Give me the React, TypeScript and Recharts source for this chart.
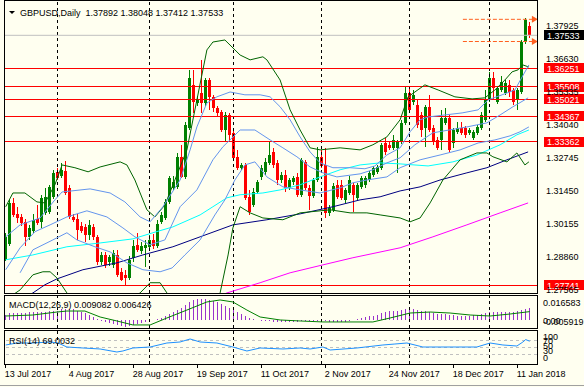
import React from "react";
import { ComposedChart, Bar, Line, XAxis, YAxis, ReferenceLine, ReferenceDot } from "recharts";

const symbolTitle = "GBPUSD,Daily";

// daily candles, 13 Jul 2017 .. 16 Jan 2018
const openPrices = [
  1.2877, 1.2936, 1.3096, 1.3053, 1.3041, 1.3022, 1.2963, 1.2987, 1.3034, 1.3022,
  1.3057, 1.3061, 1.312, 1.3218, 1.3202, 1.3222, 1.3155, 1.3041, 1.3034, 1.3006,
  1.3002, 1.2971, 1.3002, 1.2963, 1.2865, 1.2892, 1.2865, 1.2853, 1.2892, 1.2826,
  1.2814, 1.2802, 1.2881, 1.2932, 1.2908, 1.292, 1.2924, 1.2951, 1.2928, 1.3022,
  1.3037, 1.31, 1.3155, 1.3159, 1.3277, 1.3198, 1.339, 1.3559, 1.3488, 1.3527,
  1.3488, 1.3578, 1.3512, 1.3469, 1.3453, 1.3382, 1.3441, 1.3371, 1.3277, 1.3234,
  1.3245, 1.312, 1.3088, 1.3139, 1.3198, 1.3218, 1.3253, 1.3296, 1.3253, 1.3186,
  1.3206, 1.3155, 1.3179, 1.3198, 1.3128, 1.3257, 1.3155, 1.3124, 1.3186, 1.3277,
  1.3245, 1.3057, 1.3069, 1.3167, 1.3167, 1.3108, 1.3135, 1.3167, 1.3116, 1.3159,
  1.3167, 1.3186, 1.3206, 1.3218, 1.3234, 1.3331, 1.3324, 1.3312, 1.3312, 1.3335,
  1.341, 1.3527, 1.3492, 1.348, 1.3441, 1.339, 1.3473, 1.339, 1.3343, 1.3343,
  1.341, 1.3429, 1.3331, 1.3375, 1.339, 1.339, 1.3371, 1.3351, 1.3371, 1.339,
  1.3422, 1.35, 1.3586, 1.3492, 1.3539, 1.3527, 1.3559, 1.3539, 1.35, 1.3531,
  1.3727, 1.37892,
];
const highPrices = [
  1.2979, 1.3108, 1.3116, 1.3081, 1.3053, 1.3034, 1.301, 1.3053, 1.3088, 1.3128,
  1.3155, 1.3167, 1.3226, 1.3234, 1.3253, 1.3261, 1.3167, 1.3053, 1.3053, 1.3022,
  1.3014, 1.303, 1.3014, 1.2971, 1.2904, 1.2904, 1.2892, 1.2912, 1.2912, 1.2841,
  1.2834, 1.2888, 1.2951, 1.2979, 1.2943, 1.2951, 1.2971, 1.2975, 1.303, 1.3061,
  1.3112, 1.3202, 1.3202, 1.3292, 1.3324, 1.3414, 1.3618, 1.3618, 1.3516, 1.3657,
  1.3586, 1.3586, 1.352, 1.3477, 1.3461, 1.3453, 1.3449, 1.3378, 1.3304, 1.3253,
  1.3253, 1.3147, 1.3155, 1.3186, 1.3245, 1.3273, 1.3335, 1.3312, 1.3265, 1.3218,
  1.3226, 1.3194, 1.3202, 1.3214, 1.3273, 1.3265, 1.3167, 1.3194, 1.3316, 1.3304,
  1.3312, 1.3088, 1.3175, 1.3186, 1.3186, 1.3155, 1.3202, 1.3175, 1.3175, 1.3202,
  1.3202, 1.3222, 1.3241, 1.3245, 1.3331, 1.3351, 1.3335, 1.3363, 1.3343, 1.3422,
  1.3551, 1.3547, 1.3539, 1.35, 1.3453, 1.348, 1.352, 1.3402, 1.3355, 1.3461,
  1.3469, 1.3441, 1.339, 1.3414, 1.3414, 1.3398, 1.339, 1.3382, 1.3402, 1.3453,
  1.3539, 1.361, 1.361, 1.3555, 1.3594, 1.3578, 1.3578, 1.3547, 1.3547, 1.3735,
  1.3821, 1.38048,
];
const lowPrices = [
  1.2869, 1.2928, 1.3041, 1.3018, 1.3006, 1.2928, 1.2951, 1.2979, 1.301, 1.2998,
  1.3049, 1.3053, 1.3112, 1.3186, 1.3194, 1.3128, 1.3034, 1.3022, 1.2951, 1.2979,
  1.2943, 1.2951, 1.2951, 1.2853, 1.2853, 1.2841, 1.2849, 1.2841, 1.2806, 1.279,
  1.2775, 1.2794, 1.2865, 1.2904, 1.2896, 1.2845, 1.2916, 1.2916, 1.292, 1.3014,
  1.303, 1.3092, 1.3147, 1.3151, 1.3194, 1.319, 1.3382, 1.3449, 1.3477, 1.3449,
  1.3477, 1.3461, 1.3453, 1.3433, 1.3375, 1.3335, 1.3335, 1.3265, 1.3226, 1.3226,
  1.3108, 1.3049, 1.3081, 1.3131, 1.3186, 1.3206, 1.3245, 1.3234, 1.3167, 1.3175,
  1.3139, 1.3147, 1.3167, 1.312, 1.312, 1.3147, 1.3069, 1.3116, 1.3179, 1.3234,
  1.3037, 1.3045, 1.3061, 1.3112, 1.3108, 1.3096, 1.3128, 1.3061, 1.3108, 1.3151,
  1.3155, 1.3179, 1.3198, 1.321, 1.3226, 1.3284, 1.3304, 1.3304, 1.3214, 1.3328,
  1.3402, 1.3453, 1.348, 1.339, 1.3355, 1.3316, 1.3375, 1.3324, 1.3304, 1.3304,
  1.3402, 1.3296, 1.3312, 1.3367, 1.3363, 1.3351, 1.3363, 1.3343, 1.3363, 1.3382,
  1.3414, 1.3492, 1.35, 1.3484, 1.3531, 1.352, 1.3512, 1.348, 1.3461, 1.3524,
  1.372, 1.37412,
];
const closePrices = [
  1.2963, 1.3096, 1.3049, 1.3037, 1.3018, 1.2963, 1.2998, 1.303, 1.3018, 1.3116,
  1.312, 1.3159, 1.3214, 1.3194, 1.3226, 1.3135, 1.3041, 1.303, 1.299, 1.2987,
  1.2971, 1.301, 1.2963, 1.2865, 1.2892, 1.2853, 1.2885, 1.29, 1.2814, 1.2794,
  1.2802, 1.2873, 1.2928, 1.2912, 1.2928, 1.2932, 1.2951, 1.2928, 1.3014, 1.3049,
  1.31, 1.3194, 1.3179, 1.3277, 1.3198, 1.3402, 1.3586, 1.3492, 1.35, 1.3488,
  1.3578, 1.3512, 1.3469, 1.3449, 1.3382, 1.3441, 1.3363, 1.3273, 1.3234, 1.3245,
  1.3116, 1.3061, 1.3139, 1.3179, 1.3234, 1.3257, 1.3284, 1.3245, 1.3186, 1.3206,
  1.3155, 1.3186, 1.3194, 1.3128, 1.3265, 1.3155, 1.3124, 1.3186, 1.3277, 1.3241,
  1.3057, 1.3077, 1.3163, 1.312, 1.3116, 1.3147, 1.3186, 1.3128, 1.3167, 1.3194,
  1.3194, 1.3214, 1.3234, 1.3237, 1.3324, 1.3296, 1.3312, 1.3343, 1.3335, 1.341,
  1.3527, 1.3461, 1.352, 1.3402, 1.3382, 1.3473, 1.3382, 1.3335, 1.3312, 1.3429,
  1.3429, 1.3304, 1.3382, 1.339, 1.3371, 1.3363, 1.3382, 1.3375, 1.3394, 1.3441,
  1.35, 1.3586, 1.3547, 1.3547, 1.3571, 1.3567, 1.3531, 1.3492, 1.3539, 1.3727,
  1.3814, 1.37533,
];

const dateTickBars = [0, 16, 32, 48, 64, 80, 96, 112, 128];
const dateTickLabels = [
  "13 Jul 2017", "4 Aug 2017", "28 Aug 2017", "19 Sep 2017", "11 Oct 2017",
  "2 Nov 2017", "24 Nov 2017", "18 Dec 2017", "11 Jan 2018",
];
const monthStartBars = [13, 36, 57, 79, 101, 121];

const priceTicks = [1.37925, 1.3663, 1.35335, 1.3404, 1.32745, 1.3145, 1.30155, 1.2886, 1.27565];
const levelPrices = [1.36251, 1.35508, 1.35021, 1.34367, 1.33362, 1.27741];
const arrowLevels = [1.3816, 1.3729];
const arrowFromBar = 114.3;
const arrowToBar = 131.8;

// indicator lines as [bar, value]
const bandWideUpper = [
  [0, 1.3081], [1.8, 1.3135], [4.8, 1.3135], [7.8, 1.31], [9.8, 1.3096], [12.3, 1.3167],
  [14.1, 1.3245], [17.3, 1.3234], [20.6, 1.3218], [23.6, 1.3237], [28.6, 1.3257], [30.3, 1.3245],
  [32.3, 1.3186], [35.3, 1.3069], [37.3, 1.3041], [39.8, 1.3088], [42.3, 1.3186], [45.3, 1.3304],
  [47.8, 1.35], [50.3, 1.3696], [51.8, 1.3727], [54.8, 1.3735], [58.6, 1.3676], [61.1, 1.3657],
  [64.3, 1.3669], [65.3, 1.3657], [68.6, 1.3578], [71.1, 1.3461], [73.6, 1.3382], [76.1, 1.3312],
  [78.6, 1.3304], [83.6, 1.3312], [88.6, 1.3304], [91.8, 1.3324], [95.3, 1.3355], [98.6, 1.3422],
  [100.6, 1.3512], [104.8, 1.3559], [108.1, 1.3539], [112.3, 1.3512], [116.6, 1.3504],
  [119.8, 1.3508], [122.3, 1.3539], [124.8, 1.3578], [126.6, 1.361], [128.1, 1.3618],
  [129.3, 1.3637], [130.8, 1.3629],
];
const bandWideLower = [
  [0, 1.2716], [3.6, 1.2755], [6.8, 1.2814], [9.3, 1.2826], [11.1, 1.2826], [12.8, 1.2802],
  [15.3, 1.2743], [18.6, 1.2696], [23.6, 1.2669], [28.6, 1.2696], [33.6, 1.2743], [36.1, 1.2783],
  [38.6, 1.2783], [40.3, 1.2743], [43.6, 1.2696], [47.3, 1.2677], [51.8, 1.2716], [53.6, 1.2743],
  [55.6, 1.2892], [56.8, 1.2998], [58.6, 1.3081], [61.1, 1.3057], [64.3, 1.3037], [69.3, 1.303],
  [73.6, 1.3057], [81.1, 1.3069], [86.1, 1.3057], [90.3, 1.3057], [93.6, 1.3049], [98.6, 1.3037],
  [101.1, 1.3022], [103.6, 1.3037], [106.1, 1.3096], [109.3, 1.3186], [113.6, 1.3265],
  [117.8, 1.3292], [120.3, 1.3292], [121.8, 1.3277], [125.3, 1.3257], [127.8, 1.3292],
  [129.8, 1.3245], [130.8, 1.3257],
];
const bandUpper = [
  [0, 1.2963], [3.6, 1.301], [8.6, 1.3037], [12.3, 1.3108], [14.1, 1.3139], [21.1, 1.3151],
  [26.1, 1.3135], [29.8, 1.31], [33.6, 1.3041], [36.1, 1.3022], [39.3, 1.3081], [43.6, 1.3186],
  [46.1, 1.3304], [47.8, 1.3394], [50.3, 1.3488], [52.8, 1.3512], [56.1, 1.3531], [59.8, 1.352],
  [63.6, 1.352], [66.1, 1.3512], [68.6, 1.3473], [71.1, 1.3422], [73.6, 1.3355], [76.1, 1.3296],
  [78.6, 1.3253], [81.8, 1.3234], [86.1, 1.3234], [89.8, 1.323], [92.3, 1.3241], [95.3, 1.3284],
  [98.6, 1.3312], [101.1, 1.3375], [103.6, 1.3422], [105.6, 1.3433], [109.8, 1.3441],
  [114.1, 1.3449], [118.1, 1.3461], [120.6, 1.35], [124.1, 1.352], [127.3, 1.3539],
  [129.1, 1.359], [130.8, 1.3637],
];
const bandMiddle = [
  [0, 1.2834], [3.6, 1.292], [7.3, 1.2983], [11.1, 1.301], [15.3, 1.3041], [20.3, 1.3065],
  [25.3, 1.3041], [29.3, 1.2998], [32.3, 1.2963], [36.1, 1.2932], [39.8, 1.2951], [43.6, 1.3081],
  [47.8, 1.3147], [51.8, 1.3265], [54.3, 1.3316], [58.6, 1.3382], [62.3, 1.3382], [66.1, 1.3343],
  [69.3, 1.3312], [72.8, 1.3277], [76.1, 1.3237], [79.3, 1.3214], [82.8, 1.3198], [88.6, 1.321],
  [91.8, 1.3226], [95.3, 1.3253], [98.6, 1.3273], [102.3, 1.3324], [106.8, 1.3371],
  [115.3, 1.3394], [120.3, 1.3410], [123.6, 1.3441], [126.8, 1.3473], [130.6, 1.3508],
];
const bandLower = [
  [3.6, 1.2822], [6.8, 1.2912], [11.8, 1.2951], [15.3, 1.2979], [17.8, 1.2951], [22.3, 1.2924],
  [26.1, 1.2904], [30.3, 1.2861], [34.3, 1.2834], [38.6, 1.2826], [41.6, 1.2841], [44.8, 1.2892],
  [48.6, 1.2951], [52.3, 1.3049], [54.8, 1.3108], [57.3, 1.3186], [59.8, 1.3245], [62.3, 1.3257],
  [65.3, 1.3198], [69.3, 1.3159], [73.6, 1.3147], [78.6, 1.3135], [83.6, 1.3155], [86.8, 1.3175],
  [90.3, 1.3186], [95.3, 1.3198], [98.6, 1.3234], [103.6, 1.3265], [108.6, 1.3284],
  [113.6, 1.3304], [118.1, 1.3331], [122.3, 1.3343], [126.1, 1.3359], [128.6, 1.3375],
  [130.8, 1.3394],
];
const maAqua = [
  [0, 1.2873], [6.8, 1.2892], [15.3, 1.2924], [23.6, 1.2939], [31.8, 1.2955], [36.8, 1.2979],
  [41.8, 1.3002], [48.6, 1.3049], [51.8, 1.3081], [55.3, 1.3116], [58.6, 1.3128], [64.3, 1.3135],
  [68.6, 1.3147], [73.6, 1.3167], [78.6, 1.3198], [83.6, 1.3226], [88.6, 1.3245], [93.6, 1.3253],
  [98.6, 1.3249], [105.6, 1.3241], [111.8, 1.3257], [117.8, 1.3284], [123.6, 1.3324],
  [127.8, 1.3363], [130.8, 1.3382],
];
const maNavy = [
  [3.6, 1.2716], [6.8, 1.2743], [9.8, 1.2775], [12.8, 1.2798], [19.3, 1.2834], [27.8, 1.2861],
  [34.3, 1.2892], [41.8, 1.2924], [48.6, 1.2963], [56.8, 1.301], [65.3, 1.303], [73.6, 1.3053],
  [81.8, 1.3081], [88.6, 1.3108], [93.6, 1.312], [98.6, 1.3143], [103.6, 1.3159],
  [108.6, 1.3186], [115.3, 1.3214], [120.3, 1.3234], [125.3, 1.3265], [130.6, 1.3296],
];
const maMagenta = [
  [52.3, 1.2724], [55.3, 1.2743], [63.6, 1.2783], [71.1, 1.2822], [79.3, 1.2853], [86.8, 1.2881],
  [98.6, 1.292], [106.8, 1.2963], [115.3, 1.301], [123.6, 1.3057], [130.6, 1.3096],
];

// MACD(12,26,9): main per bar, signal sampled
const macdMain = [
  0.0037, 0.0053, 0.0053, 0.0053, 0.0053, 0.0053, 0.0061, 0.0061, 0.0061, 0.0061,
  0.0061, 0.0069, 0.0069, 0.0069, 0.0085, 0.0085, 0.0085, 0.0085, 0.0069, 0.0061,
  0.0053, 0.0037, 0.0021, 0.0005, -0.0011, -0.0019, -0.0027, -0.0035, -0.0043, -0.0052,
  -0.0059, -0.0052, -0.0043, -0.0035, -0.0027, -0.0019, -0.0011, -0.0003, 0.0005, 0.0013,
  0.0029, 0.0045, 0.0061, 0.0077, 0.0093, 0.0118, 0.0142, 0.0158, 0.0163, 0.0166,
  0.0163, 0.0158, 0.015, 0.0142, 0.0126, 0.011, 0.0093, 0.0077, 0.0061, 0.0045,
  0.0029, 0.0013, 0.0005, -0.0003, -0.0011, -0.0011, -0.0011, -0.0019, -0.0019, -0.0019,
  -0.0019, -0.0019, -0.0019, -0.0019, -0.0015, -0.0015, -0.0015, -0.0015, -0.0011, -0.0011,
  -0.0015, -0.0019, -0.0019, -0.0019, -0.0019, -0.0019, -0.0011, -0.0003, 0.0005, 0.0013,
  0.0021, 0.0029, 0.0029, 0.0037, 0.0053, 0.0061, 0.0069, 0.0069, 0.0069, 0.0077,
  0.0085, 0.0085, 0.0085, 0.0077, 0.0069, 0.0069, 0.0061, 0.0053, 0.0045, 0.0045,
  0.0045, 0.0037, 0.0037, 0.0029, 0.0029, 0.0029, 0.0029, 0.0037, 0.0037, 0.0045,
  0.0053, 0.0061, 0.0061, 0.0061, 0.0061, 0.0061, 0.0061, 0.0061, 0.0069, 0.0077,
  0.0085, 0.009082,
];
const macdSignal = [
  [0, 0.0029], [6.8, 0.0037], [12.8, 0.0061], [15.3, 0.0069], [19.8, 0.0069], [23.6, 0.0021],
  [27.8, -0.0011], [31.8, -0.0043], [36.1, -0.0043], [40.3, 0.0013], [45.3, 0.0077],
  [50.3, 0.0142], [53.6, 0.0158], [56.8, 0.0142], [60.3, 0.0077], [63.6, 0.0021],
  [68.6, -0.0003], [73.6, -0.0011], [79.3, -0.0019], [91.8, -0.0019], [96.1, 0.0013],
  [101.1, 0.0053], [106.1, 0.0061], [111.1, 0.0053], [116.1, 0.0037], [121.1, 0.0029],
  [126.1, 0.0045], [131, 0.006426],
];
const macdScaleValues = [0.016583, 0, -0.005919];
const macdScaleLabels = ["0.016583", "0.00", "-0.005919"];

// RSI(14)
const rsiPoints = [
  [0, 57.6], [2.8, 63.6], [6.8, 63.6], [11.1, 66.7], [13.1, 63.6], [15.3, 51.5], [19.3, 48.5],
  [23.6, 45.5], [27.8, 36.4], [29.3, 39.4], [31.8, 48.5], [36.1, 51.5], [40.3, 63.6],
  [43.6, 66.7], [46.1, 75.8], [48.6, 66.7], [52.8, 63.6], [56.8, 51.5], [60.3, 39.4],
  [63.6, 48.5], [69.3, 45.5], [73.6, 48.5], [76.1, 45.5], [79.3, 51.5], [81.1, 42.4],
  [87.8, 48.5], [94.3, 57.6], [97.3, 60.6], [100.3, 63.6], [104.3, 51.5], [108.6, 51.5],
  [112.8, 51.5], [117.8, 51.5], [121.1, 63.6], [124.3, 57.6], [127.8, 54.5], [129.3, 66.7],
  [130, 74], [131, 69.0032],
];
const rsiLevels = [70, 50, 30];
const rsiScaleValues = [100, 70, 50, 30, 0];

const X_DOMAIN = [-0.425, 132.825];
const PRICE_DOMAIN = [1.274275, 1.388785];
const MACD_DOMAIN = [-0.00676, 0.019];

const FONT = "'Liberation Sans', Arial, sans-serif";
const BG = "#FFFFF0";
const BULL = "#008000";
const BEAR = "#FF0000";

const bars = openPrices.map((o, i) => ({
  i, open: o, high: highPrices[i], low: lowPrices[i], close: closePrices[i],
}));
const macdBars = macdMain.map((v, i) => ({ i, v }));
const pts = (pairs: number[][]) => pairs.map(([i, v]) => ({ i, v }));
const last = bars.length - 1;

const Candle = (props: any) => {
  const { x, y, width, height, payload } = props;
  if (!payload || height == null) return null;
  const top = height >= 0 ? y : y + height;
  const h = Math.abs(height);
  const { open, close, high, low } = payload;
  const span = high - low || 1e-9;
  const py = (v: number) => top + ((high - v) / span) * h;
  const cx = Math.floor(x + width / 2) + 0.5;
  const color = close >= open ? BULL : BEAR;
  const b0 = Math.round(Math.min(py(open), py(close)));
  const b1 = Math.round(Math.max(py(open), py(close)));
  return (
    <g shapeRendering="crispEdges">
      <line x1={cx} x2={cx} y1={Math.round(top)} y2={Math.round(top + h)} stroke={color} />
      <rect x={cx - 1.5} y={b0} width={3} height={Math.max(1, b1 - b0)} fill={color} />
    </g>
  );
};

const HistLine = (props: any) => {
  const { x, y, width, height } = props;
  if (height == null) return null;
  const cx = Math.floor(x + width / 2) + 0.5;
  return <line x1={cx} x2={cx} y1={y} y2={y + height} stroke="#9932CC" shapeRendering="crispEdges" />;
};

const PriceTick = (props: any) => {
  const { x, y, payload } = props;
  return (
    <text x={x + 9} y={y + 3.5} fontSize={9} fontFamily={FONT} fill="#000">
      {Number(payload.value).toFixed(5)}
    </text>
  );
};

const priceTag = (price: number, bg: string) => (props: any) => {
  const vb = props.viewBox || {};
  const x = (vb.x || 0) + (vb.width || 0);
  const y = vb.y || 0;
  return (
    <g>
      <rect x={x + 7} y={y - 5} width={47} height={10} fill={bg} shapeRendering="crispEdges" />
      <text x={x + 10} y={y + 3.5} fontSize={9} fontFamily={FONT} fill="#fff">
        {price.toFixed(5)}
      </text>
    </g>
  );
};

const Arrowhead = (props: any) => {
  const { cx, cy } = props;
  return <polygon points={`${cx - 3},${cy - 3.5} ${cx + 3},${cy} ${cx - 3},${cy + 3.5}`} fill="#FF6020" />;
};

const MacdTick = (props: any) => {
  const { x, y, payload } = props;
  const k = macdScaleValues.indexOf(payload.value);
  const shift = [3.4, 0.4, -5.3][k] || 0;
  return (
    <text x={x + 6} y={y + shift + 3.5} fontSize={9} fontFamily={FONT} fill="#000">
      {macdScaleLabels[k]}
    </text>
  );
};

const RsiTick = (props: any) => {
  const { x, y, payload } = props;
  const shift = { 100: 5.5, 70: 0, 50: -2.5, 30: -4, 0: -7 }[payload.value as number] || 0;
  return (
    <text x={x + 6} y={y + shift + 3.5} fontSize={9} fontFamily={FONT} fill="#000">
      {payload.value}
    </text>
  );
};

const DateTick = (props: any) => {
  const { x, y, payload } = props;
  const k = dateTickBars.indexOf(payload.value);
  const lx = Math.floor(x) + 0.5;
  return (
    <g>
      <line x1={lx} x2={lx} y1={y} y2={y + 4} stroke="#000" shapeRendering="crispEdges" />
      <text x={x - 1} y={y + 13.4} fontSize={9} fontFamily={FONT} fill="#000">
        {dateTickLabels[k]}
      </text>
    </g>
  );
};

const separators = (prefix: string) =>
  monthStartBars.map((b) => (
    <ReferenceLine key={prefix + b} x={b} stroke="#000" strokeDasharray="3 3" shapeRendering="crispEdges" />
  ));

const frame = (top: number, height: number): React.CSSProperties => ({
  position: "absolute", left: 4, top, width: 534, height,
  border: "1px solid #000", boxSizing: "border-box", pointerEvents: "none",
});

const lineProps = { dataKey: "v", dot: false, isAnimationActive: false, strokeWidth: 1, type: "linear" as const };

export default function App() {
  const lastBar = bars[last];
  const signalLast = macdSignal[macdSignal.length - 1][1];
  const rsiLast = rsiPoints[rsiPoints.length - 1][1];
  const titleValues = [lastBar.open, lastBar.high, lastBar.low, lastBar.close].map((v) => v.toFixed(5)).join(" ");

  return (
    <div style={{ position: "absolute", left: 0, top: 0, width: 584, height: 387, background: BG, overflow: "hidden" }}>
      <div style={{ position: "absolute", left: 0, top: 0 }}>
        <ComposedChart width={584} height={294} data={bars} margin={{ top: 1, right: 0, bottom: 1, left: 4 }}>
          <XAxis type="number" dataKey="i" domain={X_DOMAIN} allowDataOverflow hide />
          <YAxis
            type="number" orientation="right" domain={PRICE_DOMAIN} allowDataOverflow width={47}
            ticks={priceTicks} interval={0} tick={(p: any) => <PriceTick {...p} />}
            tickLine={false} axisLine={false} tickSize={0} tickMargin={0}
          />
          {separators("m")}
          <ReferenceLine y={lastBar.close} stroke="#C0C0C0" label={priceTag(lastBar.close, "#000")} />
          {levelPrices.map((p) => (
            <ReferenceLine key={p} y={p} stroke="#FF0000" shapeRendering="crispEdges" label={priceTag(p, "#FF0000")} />
          ))}
          <Bar dataKey={(d: any) => [d.low, d.high]} shape={Candle} barSize={3} isAnimationActive={false} />
          <Line data={pts(maMagenta)} stroke="#FF00FF" {...lineProps} />
          <Line data={pts(maNavy)} stroke="#000080" {...lineProps} />
          <Line data={pts(maAqua)} stroke="#00FFFF" {...lineProps} />
          <Line data={pts(bandWideUpper)} stroke="#006400" {...lineProps} />
          <Line data={pts(bandWideLower)} stroke="#006400" {...lineProps} />
          <Line data={pts(bandUpper)} stroke="#6495ED" {...lineProps} />
          <Line data={pts(bandMiddle)} stroke="#6495ED" {...lineProps} />
          <Line data={pts(bandLower)} stroke="#6495ED" {...lineProps} />
          {arrowLevels.map((p) => (
            <ReferenceLine
              key={"a" + p}
              segment={[{ x: arrowFromBar, y: p }, { x: arrowToBar, y: p }]}
              stroke="#FF6020" strokeDasharray="4 2"
            />
          ))}
          {arrowLevels.map((p) => (
            <ReferenceDot key={"d" + p} x={arrowToBar + 0.5} y={p} r={3} shape={(s: any) => <Arrowhead {...s} />} />
          ))}
        </ComposedChart>
      </div>

      <div style={{ position: "absolute", left: 0, top: 294 }}>
        <ComposedChart width={584} height={35} data={macdBars} margin={{ top: 2, right: 0, bottom: 1, left: 4 }}>
          <XAxis type="number" dataKey="i" domain={X_DOMAIN} allowDataOverflow hide />
          <YAxis
            type="number" orientation="right" domain={MACD_DOMAIN} allowDataOverflow width={47}
            ticks={macdScaleValues} interval={0} tick={(p: any) => <MacdTick {...p} />}
            tickLine={false} axisLine={false} tickSize={0} tickMargin={0}
          />
          {separators("c")}
          <Bar dataKey="v" shape={HistLine} barSize={1} isAnimationActive={false} />
          <Line data={pts(macdSignal)} stroke="#008000" {...lineProps} />
        </ComposedChart>
      </div>

      <div style={{ position: "absolute", left: 0, top: 329 }}>
        <ComposedChart width={584} height={55} data={pts(rsiPoints)} margin={{ top: 2, right: 0, bottom: 2, left: 4 }}>
          <XAxis
            type="number" dataKey="i" domain={X_DOMAIN} allowDataOverflow height={18}
            ticks={dateTickBars} interval={0} tick={(p: any) => <DateTick {...p} />}
            tickLine={false} axisLine={false} tickSize={0} tickMargin={0}
          />
          <YAxis
            type="number" orientation="right" domain={[0, 100]} allowDataOverflow width={47}
            ticks={rsiScaleValues} interval={0} tick={(p: any) => <RsiTick {...p} />}
            tickLine={false} axisLine={false} tickSize={0} tickMargin={0}
          />
          {separators("r")}
          {rsiLevels.map((l) => (
            <ReferenceLine key={l} y={l} stroke="#C0C0C0" strokeDasharray="3 3" shapeRendering="crispEdges" />
          ))}
          <Line stroke="#1E90FF" {...lineProps} />
        </ComposedChart>
      </div>

      <div style={frame(0, 294)} />
      <div style={frame(295, 34)} />
      <div style={frame(330, 35)} />
      <div style={{ position: "absolute", left: 0, top: 385, width: 584, height: 1, background: "#A0A0A0" }} />

      <svg width={584} height={387} style={{ position: "absolute", left: 0, top: 0, pointerEvents: "none" }}>
        <polygon points="9,11 15,11 12,14" fill="#000" />
        <text x={20} y={16} fontSize={9} fontFamily={FONT} fill="#000" style={{ whiteSpace: "pre" }}>
          {symbolTitle + "  " + titleValues}
        </text>
        <text x={9} y={307.5} fontSize={9} fontFamily={FONT} fill="#000">
          {`MACD(12,26,9) ${macdMain[last].toFixed(6)} ${signalLast.toFixed(6)}`}
        </text>
        <text x={9} y={344} fontSize={9} fontFamily={FONT} fill="#000">
          {`RSI(14) ${rsiLast.toFixed(4)}`}
        </text>
      </svg>
    </div>
  );
}
